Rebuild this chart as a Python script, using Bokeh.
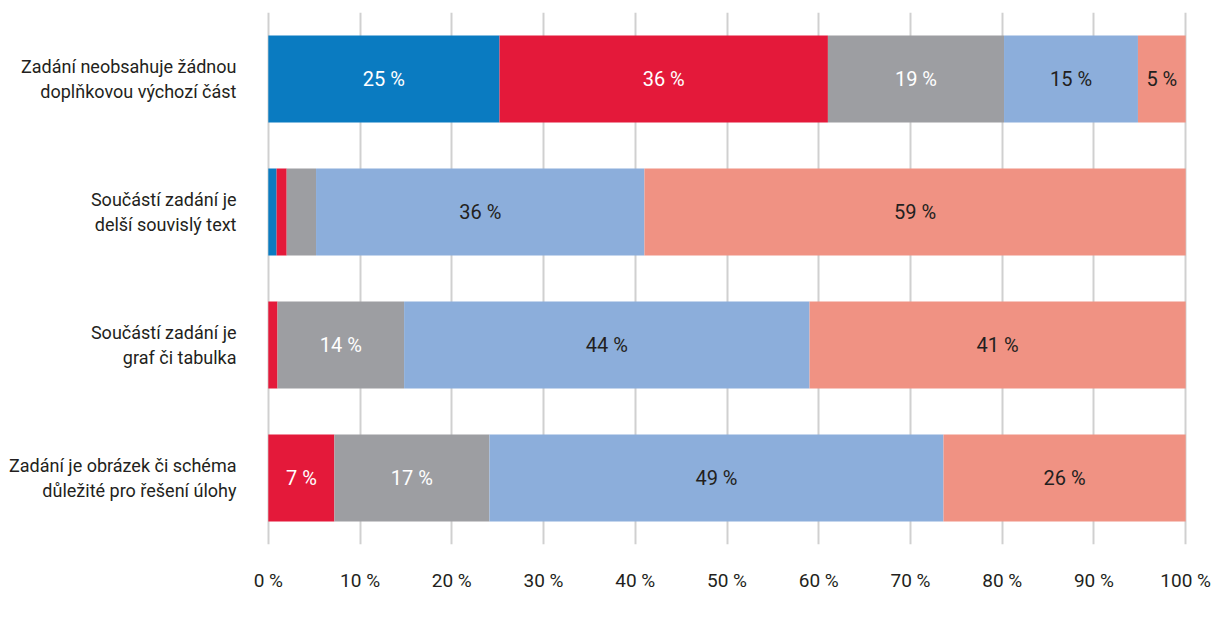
from bokeh.plotting import figure
from bokeh.models import ColumnDataSource, Range1d, FactorRange, FixedTicker, Legend
from bokeh.core.properties import value
from bokeh.embed import file_html
from bokeh.resources import INLINE

categories = [
    "Zadání neobsahuje žádnou\ndoplňkovou výchozí část",
    "Součástí zadání je\ndelší souvislý text",
    "Součástí zadání je\ngraf či tabulka",
    "Zadání je obrázek či schéma\ndůležité pro řešení úlohy",
]
series_names = ["téměř výhradně", "v převládající míře", "rovnocenně k ostatním úlohám",
                "v menšinové míře", "vůbec nebo téměř vůbec"]
temer_vyhradne = [25.2, 0.9, 0.0, 0.0]
v_prevladajici = [35.8, 1.1, 1.0, 7.2]
rovnocenne = [19.2, 3.2, 13.8, 16.9]
v_mensinove = [14.6, 35.8, 44.2, 49.5]
vubec = [5.2, 59.0, 41.0, 26.4]
label_values = [[25, None, None, None], [36, None, None, 7], [19, None, 14, 17],
                [15, 36, 44, 49], [5, 59, 41, 26]]
x_ticks = [0, 10, 20, 30, 40, 50, 60, 70, 80, 90, 100]
x_tick_labels = ["0 %", "10 %", "20 %", "30 %", "40 %", "50 %", "60 %", "70 %", "80 %", "90 %", "100 %"]

colors = ["#0a7bc1", "#e4193a", "#9d9ea2", "#8caedb", "#f09283"]
text_colors = ["white", "white", "white", "#231f20", "#231f20"]
FONT = "Roboto"

keys = ["s0", "s1", "s2", "s3", "s4"]
series = [temer_vyhradne, v_prevladajici, rovnocenne, v_mensinove, vubec]
data = {"cat": categories}
for k, s in zip(keys, series):
    data[k] = s
source = ColumnDataSource(data)

p = figure(frame_width=921, frame_height=532, output_backend="svg", toolbar_location=None,
           y_range=FactorRange(*categories[::-1]), x_range=Range1d(-0.2, 100.2),
           min_border_left=266, min_border_right=24, min_border_top=12, min_border_bottom=0)
p.outline_line_color = None

renderers = p.hbar_stack(keys, y="cat", height=0.654, color=colors, line_color=None, source=source)

lx, ly, lt, lc = [], [], [], []
for i, cat in enumerate(categories):
    left = 0.0
    for j, s in enumerate(series):
        v = s[i]
        if label_values[j][i] is not None:
            lx.append(left + v / 2)
            ly.append(cat)
            lt.append(f"{label_values[j][i]} %")
            lc.append(text_colors[j])
        left += v
p.text(x=lx, y=ly, text=lt, text_color=lc, text_align="center", text_baseline="middle",
       text_font=value(FONT), text_font_size="20px")

p.xaxis.ticker = FixedTicker(ticks=x_ticks)
p.xaxis.major_label_overrides = {t: l for t, l in zip(x_ticks, x_tick_labels)}
p.xaxis.axis_line_color = None
p.xaxis.major_tick_line_color = None
p.xaxis.minor_tick_line_color = None
p.xaxis.major_tick_out = 0
p.xaxis.major_label_standoff = 24
p.xaxis.major_label_text_font = FONT
p.xaxis.major_label_text_font_size = "19px"
p.xaxis.major_label_text_color = "#231f20"

p.yaxis.axis_line_color = None
p.yaxis.major_tick_line_color = None
p.yaxis.minor_tick_line_color = None
p.yaxis.major_tick_out = 0
p.yaxis.major_label_standoff = 30
p.yaxis.major_label_text_font = FONT
p.yaxis.major_label_text_font_size = "18px"
p.yaxis.major_label_text_color = "#231f20"
p.yaxis.major_label_text_align = "center"

p.ygrid.grid_line_color = None
p.xgrid.grid_line_color = "#d0d0d0"
p.xgrid.grid_line_width = 2

legend = Legend(items=[(n, [r]) for n, r in zip(series_names, renderers)],
                orientation="horizontal", location=(-182, 0),
                label_text_font=FONT, label_text_font_size="18px", label_text_color="#231f20",
                glyph_width=14, glyph_height=18, label_standoff=4, spacing=28,
                margin=0, padding=0, border_line_color=None, background_fill_alpha=0)
p.add_layout(legend, "below")

open("out.html", "w").write(file_html(p, INLINE))
